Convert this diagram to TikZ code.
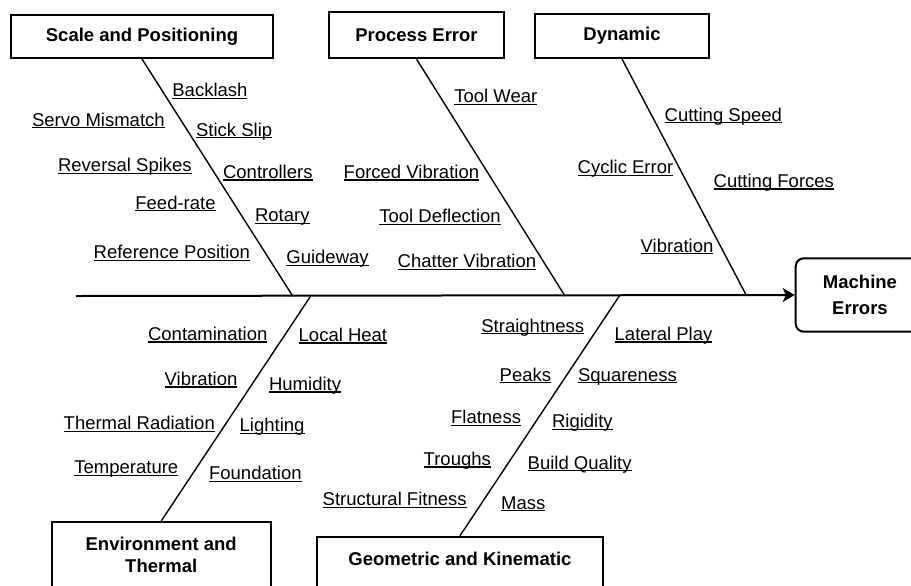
\documentclass[tikz,border=0pt]{standalone}
\usepackage{fontspec}
\setmainfont{Liberation Sans}
\usepackage{tikz}
\usetikzlibrary{arrows.meta}

\newcommand{\cue}[1]{\setbox0=\hbox{#1}\rlap{\rule[-1.15pt]{\wd0}{0.65pt}}\box0}

\begin{document}
\begin{tikzpicture}[
    x=0.5pt, y=-0.5pt,
    font=\fontsize{9.25}{11}\selectfont,
    catbox/.style={draw, line width=1pt, font=\fontsize{9.25}{11}\selectfont\bfseries, align=center, inner sep=0pt},
    cause/.style={anchor=base west, inner sep=0pt},
    bone/.style={line width=0.7pt},
    spine/.style={line width=1pt, -{Stealth[length=6pt, width=7pt, inset=1.6pt]}}
]
    \useasboundingbox (0,0) rectangle (911,585);
    \clip (0,0) rectangle (911,585);

    \node[catbox, minimum width=131pt, minimum height=21.7pt] (scale) at (142,36.3) {Scale and Positioning};
    \node[catbox, minimum width=87.5pt, minimum height=22.8pt] (proc) at (416.5,35.2) {Process Error};
    \node[catbox, minimum width=87pt, minimum height=22pt] (dyn) at (622,36) {Dynamic};
    \node[catbox, minimum width=109.5pt, minimum height=32.5pt] (env) at (161.2,554.5) {Environment and\\Thermal};
    \node[catbox, minimum width=143.3pt, anchor=north, text height=14.6pt, text depth=16pt] (geo) at (460,535.7) {Geometric and Kinematic};
    \node[catbox, rounded corners=4pt, font=\fontsize{9.25}{13}\selectfont\bfseries, minimum width=64.3pt, minimum height=36.7pt] (mach) at (860,295) {Machine\\Errors};

    \coordinate (tail) at (76,296);
    \coordinate (j1) at (292.7,296);
    \coordinate (j2) at (565,296);
    \coordinate (j3) at (746.7,296);
    \coordinate (j4) at (310.7,296);
    \coordinate (j5) at (619.3,296);

    \draw[spine] (tail) -- (mach.west);
    \draw[bone] (scale.south) -- (j1);
    \draw[bone] (proc.south) -- (j2);
    \draw[bone] (dyn.south) -- (j3);
    \draw[bone] (env.north) -- (j4);
    \draw[bone] (geo.north) -- (j5);

    \node[cause] (backlash) at (172,96.9) {\cue{Backlash}};
    \node[cause] (servo) at (31.7,126.1) {\cue{Servo Mismatch}};
    \node[cause] (stick) at (195.7,136.1) {\cue{Stick Slip}};
    \node[cause] (reversal) at (57.7,171.9) {\cue{Reversal Spikes}};
    \node[cause] (control) at (222.7,178.3) {\cue{Controllers}};
    \node[cause] (feed) at (135,209.1) {\cue{Feed-rate}};
    \node[cause] (rotary) at (254.7,221.9) {\cue{Rotary}};
    \node[cause] (refpos) at (93.3,258.6) {\cue{Reference Position}};
    \node[cause] (guide) at (286,263.6) {\cue{Guideway}};

    \node[cause] (wear) at (454,102.9) {\cue{Tool Wear}};
    \node[cause] (forced) at (343.3,178.3) {\cue{Forced Vibration}};
    \node[cause] (deflect) at (379,222.6) {\cue{Tool Deflection}};
    \node[cause] (chatter) at (397.3,267.6) {\cue{Chatter Vibration}};

    \node[cause] (speed) at (664.3,121.1) {\cue{Cutting Speed}};
    \node[cause] (cyclic) at (577.3,173.6) {\cue{Cyclic Error}};
    \node[cause] (forces) at (713.3,187.4) {\cue{Cutting Forces}};
    \node[cause] (vibdyn) at (640.3,252.1) {\cue{Vibration}};

    \node[cause] (contam) at (147.7,340.3) {\cue{Contamination}};
    \node[cause] (local) at (298.3,341.3) {\cue{Local Heat}};
    \node[cause] (vibenv) at (164.3,385.4) {\cue{Vibration}};
    \node[cause] (humid) at (268.7,390.3) {\cue{Humidity}};
    \node[cause] (radiat) at (63.3,429.9) {\cue{Thermal Radiation}};
    \node[cause] (light) at (239.3,431.9) {\cue{Lighting}};
    \node[cause] (temp) at (74,473.6) {\cue{Temperature}};
    \node[cause] (found) at (208.7,479.9) {\cue{Foundation}};

    \node[cause] (straight) at (481,332.1) {\cue{Straightness}};
    \node[cause] (lateral) at (614.3,340.4) {\cue{Lateral Play}};
    \node[cause] (peaks) at (499.3,381.1) {\cue{Peaks}};
    \node[cause] (square) at (577.7,381.1) {\cue{Squareness}};
    \node[cause] (flat) at (450.7,423.6) {\cue{Flatness}};
    \node[cause] (rigid) at (551.7,427.9) {\cue{Rigidity}};
    \node[cause] (trough) at (423.3,465.3) {\cue{Troughs}};
    \node[cause] (build) at (527.3,469.1) {\cue{Build Quality}};
    \node[cause] (struct) at (322.3,505.6) {\cue{Structural Fitness}};
    \node[cause] (mass) at (500.7,509.1) {\cue{Mass}};
\end{tikzpicture}
\end{document}
